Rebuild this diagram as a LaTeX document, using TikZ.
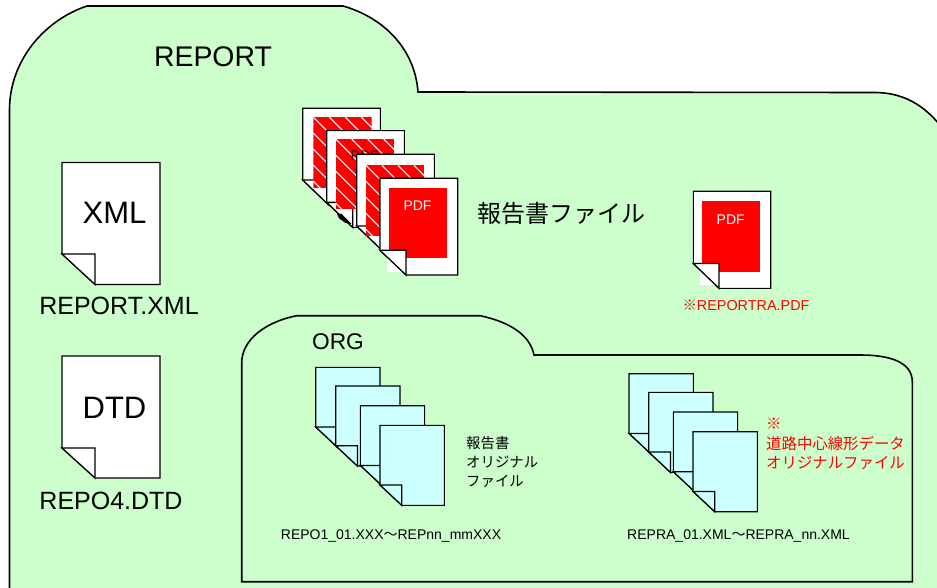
\documentclass[tikz,border=0pt]{standalone}
\usepackage{fontspec}
\setmainfont{Liberation Sans}
\newfontfamily\cjk{Noto Sans CJK JP}
\definecolor{foldergreen}{RGB}{204,255,204}
\definecolor{pagecyan}{RGB}{204,255,255}
\tikzset{
    folder/.style={draw=black, fill=foldergreen, line width=1.6pt},
    sheet/.style={draw=black, line width=1.1pt, fill=white},
    cyansheet/.style={sheet, fill=pagecyan},
    flap/.style={draw=black, line width=1.3pt, fill=white},
    cyanflap/.style={flap, fill=pagecyan},
}
\begin{document}
\begin{tikzpicture}[x=1pt, y=-1pt, every node/.style={inner sep=0pt, text=black}]
    \useasboundingbox (0,0) rectangle (937,588);
    \fill[white] (0,0) rectangle (937,588);

    % Outer folder
    \draw[folder] (9.5,595) -- (9.5,110) .. controls (9.5,60) and (45,20) .. (87,6) -- (343,6)
        .. controls (385,18) and (415,50) .. (418,92) -- (873,92.5)
        .. controls (900,92) and (925,103) .. (945,132) -- (945,595) -- cycle;
    \node[font=\fontsize{28.4}{30}\selectfont] (report) at (213,57) {REPORT};

    % XML and DTD
    \draw[sheet] (62,162.5) -- (160,162.5) -- (160,284.5) -- (95,284.5) -- (62,254) -- cycle;
    \draw[flap] (62,254) -- (95,254) -- (95,284.5) -- cycle;
    \node[font=\fontsize{31}{33}\selectfont] (xml) at (114.5,213) {XML};
    \node[font=\fontsize{25}{26}\selectfont] (xmlname) at (119,306) {REPORT.XML};

    \draw[sheet] (62,356) -- (160,356) -- (160,478) -- (95,478) -- (62,448) -- cycle;
    \draw[flap] (62,448) -- (95,448) -- (95,478) -- cycle;
    \node[font=\fontsize{31}{33}\selectfont] (dtd) at (114.5,408) {DTD};
    \node[font=\fontsize{25}{26}\selectfont] (dtdname) at (111,501) {REPO4.DTD};

    % Report PDF stack
    \foreach \x/\y/\rx/\ry/\r in {302.7/108.3/10.7/9/1, 326.7/130.7/9/8.3/2, 356.7/154.3/9.3/11/3} {
        \draw[sheet] (\x,\y) -- ++(77.7,0) -- ++(0,96.7) -- ++(-51.7,0) -- ++(-26,-25) -- cycle;
        \draw[flap] (\x,\y+71.7) -- (\x+26,\y+71.7) -- (\x+26,\y+96.7) -- cycle;
        \begin{scope}
            \clip (\x+\rx,\y+\ry) rectangle ++(58.3,70.3);
            \fill[red] (\x+\rx,\y+\ry) rectangle ++(58.3,70.3);
            \foreach \k in {-64,-48,...,48}
                \draw[white, line width=1pt] (\x+\rx+\k,\y+\ry) -- ++(72,72);
        \end{scope}
        \ifnum\r=2
            \node[text=black!75!red, font=\fontsize{14}{16}\selectfont] (pdfhidden) at (\x+38,\y+25) {PDF};
            \fill[black] (336.7,213.3) -- (341.7,214) -- (351.7,224) -- (345,222.7) -- (339,218.3) -- cycle;
        \fi
    }
    \draw[sheet] (380,178.3) -- (457.7,178.3) -- (457.7,275) -- (406,275) -- (380,250.3) -- cycle;
    \fill[red] (388.7,188) rectangle (447,258.3);
    \fill[white] (387,250.3) rectangle (406,271.7);
    \draw[flap] (380,250.3) -- (406,250.3) -- (406,275) -- cycle;
    \node[text=white, font=\fontsize{14}{16}\selectfont] (pdfa) at (417.5,206) {PDF};
    \node[font=\cjk\fontsize{24}{26}\selectfont] (reportfiles) at (561,213) {報告書ファイル};

    % Single PDF
    \draw[sheet] (693.3,191.3) -- (770.7,191.3) -- (770.7,288.3) -- (719,288.3) -- (693.3,263.5) -- cycle;
    \fill[red] (701.7,201.3) rectangle (760,271.7);
    \fill[white] (700,263.5) rectangle (719,284.5);
    \draw[flap] (693.3,263.5) -- (719,263.5) -- (719,288.3) -- cycle;
    \node[text=white, font=\fontsize{14}{16}\selectfont] (pdfb) at (730.7,220) {PDF};
    \node[text=red, font=\fontsize{14.4}{16}\selectfont] (reportra) at (746,305) {{\cjk ※}REPORTRA.PDF};

    % ORG folder
    \draw[folder] (241.7,581.7) -- (241.7,363) .. controls (241.7,340) and (265,322) .. (296.7,315.7) -- (480,315.7)
        .. controls (510,322) and (530,335) .. (534,355) -- (860,355)
        .. controls (890,355) and (912.3,362) .. (912.3,382) -- (912.3,581.7) -- cycle;
    \node[font=\fontsize{22.7}{24}\selectfont] (org) at (338,341.7) {ORG};

    % Cyan stacks
    \foreach \x/\y in {315.7/367.3, 335.7/386, 360.3/405.7, 380/425.3, 629/373.7, 648.7/392.3, 673.3/412, 693/431.7} {
        \draw[cyansheet] (\x,\y) -- ++(64.3,0) -- ++(0,80) -- ++(-42.6,0) -- ++(-21.7,-20.3) -- cycle;
        \draw[cyanflap] (\x,\y+59.7) -- ++(21.7,0) -- ++(0,20.3) -- cycle;
    }

    % Labels
    \node[anchor=west, align=left, font=\cjk\fontsize{14.4}{19}\selectfont] (orglabel) at (466,462) {報告書\\オリジナル\\ファイル};
    \node[anchor=west, align=left, text=red, font=\cjk\fontsize{15.4}{19.5}\selectfont] (repralabel) at (766,444) {※\\道路中心線形データ\\オリジナルファイル};
    \node[font=\fontsize{14}{16}\selectfont] (orgname) at (391,536) {REPO1\_01.XXX{\cjk ～}REPnn\_mmXXX};
    \node[font=\fontsize{14}{16}\selectfont] (repraname) at (738.5,536) {REPRA\_01.XML{\cjk ～}REPRA\_nn.XML};
\end{tikzpicture}
\end{document}
